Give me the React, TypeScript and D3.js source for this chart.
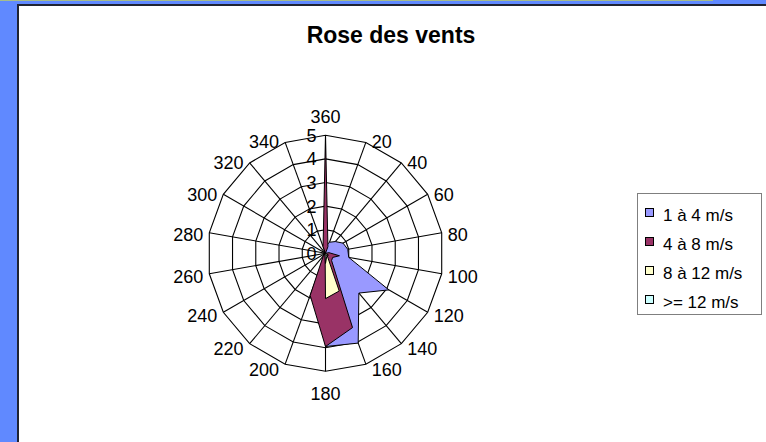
import * as d3 from 'd3'

// directions (degrees), first one sits at the top, clockwise
const categories = ['360', '20', '40', '60', '80', '100', '120', '140', '160', '180', '200', '220', '240', '260', '280', '300', '320', '340']
const radialTicks = [0, 1, 2, 3, 4, 5]

const seriesNames = ['1 à 4 m/s', '4 à 8 m/s', '8 à 12 m/s', '>= 12 m/s']
const seriesColors = ['#9999FF', '#993366', '#FFFFCC', '#CCFFFF']

const speed1to4 = [0.3, 0.5, 0.65, 0.86, 0.96, 1.0, 3.1, 2.2, 4.05, 3.95, 0.3, 0.05, 0, 0, 0, 0, 0, 0.05]
const speed4to8 = [5, 0.3, 0, 0, 0.15, 0.6, 0.35, 0.4, 3.35, 3.95, 1.9, 0.15, 0, 0, 0, 0, 0, 0.3]
const speed8to12 = [0, 0, 0, 0, 0, 0, 0.15, 0.1, 1.7, 1.92, 0.05, 0, 0, 0, 0, 0, 0, 0]
const speed12plus = [0, 0, 0, 0, 0, 0, 0, 0, 0.15, 0.43, 0.05, 0, 0, 0, 0, 0, 0, 0]

const W = 766
const H = 442
const CX = 325.5
const CY = 253.3
const R = 118
const FONT = '"Liberation Sans", Arial, sans-serif'

export default function App() {
  const series = [speed1to4, speed4to8, speed8to12, speed12plus]
  const n = categories.length
  const angle = d3.scaleLinear().domain([0, n]).range([0, 2 * Math.PI])
  const r = d3.scaleLinear().domain([0, d3.max(radialTicks) as number]).range([0, R])

  const radial = d3.lineRadial<number>()
    .angle((_, i) => angle(i))
    .radius(d => r(d))
    .curve(d3.curveLinearClosed)

  const ringPath = (v: number) => radial(categories.map(() => v)) || ''

  // Excel-like placement of the category labels around the rim
  const catLabel = (c: string, i: number) => {
    const a = angle(i)
    const deg = (a * 180) / Math.PI
    const tx = CX + R * Math.sin(a)
    const ty = CY - R * Math.cos(a)
    let x = tx, cy = ty, anchor: 'start' | 'middle' | 'end' = 'middle'
    if (Math.abs(deg) < 0.01) { cy = ty - 19 }
    else if (Math.abs(deg - 180) < 0.01) { cy = ty + 22 }
    else if (deg < 180) { anchor = 'start'; x = tx + 6; cy = ty + 2 - 3.5 * Math.cos(a) }
    else { anchor = 'end'; x = tx - 6; cy = ty + 2 - 3.5 * Math.cos(a) }
    return (
      <text key={c} x={x} y={cy + 6.4} textAnchor={anchor} fontSize={18} fill="#000">{c}</text>
    )
  }

  return (
    <svg width={W} height={H} style={{ position: 'absolute', left: 0, top: 0, display: 'block' }} fontFamily={FONT}>
      {/* frame */}
      <rect x={0} y={0} width={W} height={H} fill="#6089FF" />
      <rect x={0} y={0} width={713} height={1} fill="#A6BC8C" />
      <rect x={17} y={4} width={W - 17} height={H - 4} fill="#1F2333" />
      <rect x={19} y={6} width={W - 19} height={H - 6} fill="#FFFFFF" />

      <text x={391} y={43} textAnchor="middle" fontSize={23} fontWeight="bold" fill="#000">Rose des vents</text>

      <g transform={`translate(${CX},${CY})`}>
        {/* grid */}
        {radialTicks.filter(v => v > 0).map(v => (
          <path key={v} d={ringPath(v)} fill="none" stroke="#000" strokeWidth={1.1} />
        ))}
        {categories.map((c, i) => (
          <line key={c} x1={0} y1={0} x2={R * Math.sin(angle(i))} y2={-R * Math.cos(angle(i))} stroke="#000" strokeWidth={1.1} />
        ))}
        {/* filled series, drawn in order */}
        {series.map((s, k) => (
          <path key={k} d={radial(s) || ''} fill={seriesColors[k]} stroke="#000" strokeWidth={1} strokeLinejoin="bevel" />
        ))}
      </g>

      {/* value axis labels along the top spoke */}
      {radialTicks.map(v => (
        <text key={v} x={CX - 9} y={CY - r(v) + 6.4} textAnchor="end" fontSize={18} fill="#000">{v}</text>
      ))}

      {categories.map(catLabel)}

      {/* legend */}
      <rect x={637.5} y={193.5} width={124} height={121} fill="#fff" stroke="#7F7F7F" strokeWidth={1} />
      {seriesNames.map((name, k) => (
        <g key={name} transform={`translate(0,${k * 29})`}>
          <rect x={645.5} y={208.5} width={8} height={8} fill={seriesColors[k]} stroke="#000" strokeWidth={1} />
          <text x={663} y={220.5} fontSize={17} fill="#000">{name}</text>
        </g>
      ))}
    </svg>
  )
}
